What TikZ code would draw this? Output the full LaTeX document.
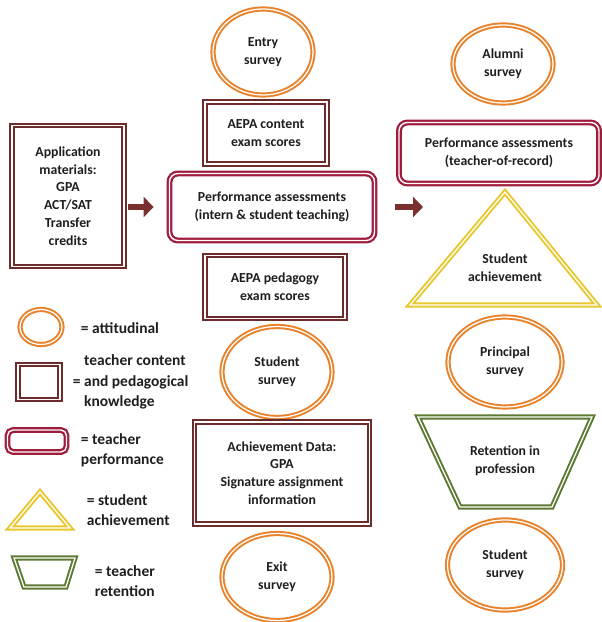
\documentclass[tikz,border=0pt]{standalone}
\usepackage{fontspec}
\setmainfont{Carlito}
\usetikzlibrary{shapes.geometric, arrows.meta}
\definecolor{surveyorange}{HTML}{E8822B}
\definecolor{boxbrown}{HTML}{6E2B2B}
\definecolor{perfred}{HTML}{A01C3C}
\definecolor{achyellow}{HTML}{E8C82E}
\definecolor{retgreen}{HTML}{5C7A32}
\definecolor{arrowred}{HTML}{7B2F2F}
\definecolor{textgray}{HTML}{1E1E1E}

\begin{document}
\begin{tikzpicture}[x=0.025cm, y=-0.025cm, every node/.style={text=textgray, font=\bfseries\fontsize{9.8}{12.6}\selectfont, align=center}]
\tikzstyle{survey} = [ellipse, draw=surveyorange, double=white, line width=1.4pt, double distance=0.9pt, inner sep=0pt]
\tikzstyle{knowledge} = [rectangle, draw=boxbrown, double=white, line width=1.6pt, double distance=1pt, inner sep=0pt]
\tikzstyle{performance} = [rectangle, rounded corners=6pt, draw=perfred, double=white, line width=1.6pt, double distance=1pt, inner sep=0pt]
\tikzstyle{achieve} = [draw=achyellow, double=white, line width=1.4pt, double distance=0.9pt]
\tikzstyle{retain} = [draw=retgreen, double=white, line width=1.4pt, double distance=0.9pt]
\tikzstyle{flow} = [line width=4.3pt, draw=arrowred, -{Triangle[length=7pt, width=14pt]}]
\tikzstyle{legendtext} = [font=\bfseries\fontsize{11}{14.5}\selectfont, align=left, anchor=west]

\useasboundingbox (0,0) rectangle (601,622);

\node (app) [knowledge, minimum width=2.8cm, minimum height=3.525cm] at (68,196) {Application\\materials:\\GPA\\ACT/SAT\\Transfer\\credits};

\node (entry) [survey, minimum width=2.5cm, minimum height=2.15cm] at (263,52) {Entry\\survey};
\node (content) [knowledge, minimum width=3.05cm, minimum height=1.55cm] at (266,133) {AEPA content\\exam scores};
\node (intern) [performance, minimum width=5.125cm, minimum height=1.675cm] at (272,207) {Performance assessments\\(intern \& student teaching)};
\node (pedagogy) [knowledge, minimum width=3.5cm, minimum height=1.575cm] at (275,287) {AEPA pedagogy\\exam scores};
\node (studsurveyA) [survey, minimum width=2.75cm, minimum height=2.275cm] at (277,372) {Student\\survey};
\node (achdata) [knowledge, minimum width=4.375cm, minimum height=2.55cm] at (282,473) {Achievement Data:\\GPA\\Signature assignment\\information};
\node (exit) [survey, minimum width=2.75cm, minimum height=2.175cm] at (277,577) {Exit\\survey};

\node (alumni) [survey, minimum width=2.5cm, minimum height=1.95cm] at (503,64) {Alumni\\survey};
\node (record) [performance, minimum width=5cm, minimum height=1.525cm] at (499,153) {Performance assessments\\(teacher-of-record)};
\draw[achieve] (505,192) -- (597,305) -- (410,305) -- cycle;
\node (studach) at (505,268) {Student\\achievement};
\node (principal) [survey, minimum width=2.85cm, minimum height=2.25cm] at (505,362) {Principal\\survey};
\draw[retain] (418,417) -- (592,417) -- (552,507) -- (460,507) -- cycle;
\node (retention) at (505,461) {Retention in\\profession};
\node (studsurveyB) [survey, minimum width=2.875cm, minimum height=2.25cm] at (505,565) {Student\\survey};

\coordinate (flowend) at (423,207);
\draw[flow, shorten <=2pt, shorten >=10.5pt] (app.east |- intern.west) -- (intern.west);
\draw[flow, shorten <=14pt] (intern.east) -- (flowend);

\node (legsurvey) [survey, minimum width=1.05cm, minimum height=0.875cm] at (41,327) {};
\node (legsurveytext) [legendtext] at (76,328) {= attitudinal};
\node (legknow) [knowledge, minimum width=1.05cm, minimum height=0.875cm] at (39,382) {};
\node (legknowtext) [legendtext] at (68,382) {\phantom{= }teacher content\\= and pedagogical\\\phantom{= }knowledge};
\node (legperf) [performance, rounded corners=4pt, minimum width=1.475cm, minimum height=0.55cm] at (37,441) {};
\node (legperftext) [legendtext] at (76,450) {= teacher\\performance};
\draw[achieve] (40,492) -- (70,528) -- (10,528) -- cycle;
\node (legachtext) [legendtext] at (82,510) {= student\\achievement};
\draw[retain] (14,558) -- (75,558) -- (66,587) -- (24,587) -- cycle;
\node (legrettext) [legendtext] at (90,581) {= teacher\\retention};

\end{tikzpicture}
\end{document}
